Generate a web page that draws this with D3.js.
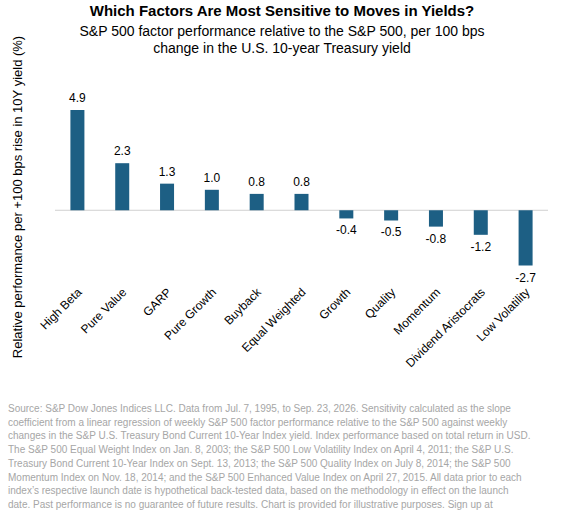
<!DOCTYPE html>
<html><head><meta charset="utf-8">
<script src="https://cdn.jsdelivr.net/npm/d3@7"></script>
<style>body{margin:0;background:#fff;font-family:Arial,"Liberation Sans",sans-serif}</style>
</head><body><div id="chart"></div>
<script>
// Data
let factors = ["High Beta","Pure Value","GARP","Pure Growth","Buyback","Equal Weighted","Growth","Quality","Momentum","Dividend Aristocrats","Low Volatility"];
let values = [4.9, 2.3, 1.3, 1.0, 0.8, 0.8, -0.4, -0.5, -0.8, -1.2, -2.7];
let footnote = [
  "Source: S&P Dow Jones Indices LLC. Data from Jul. 7, 1995, to Sep. 23, 2026. Sensitivity calculated as the slope",
  "coefficient from a linear regression of weekly S&P 500 factor performance relative to the S&P 500 against weekly",
  "changes in the S&P U.S. Treasury Bond Current 10-Year Index yield. Index performance based on total return in USD.",
  "The S&P 500 Equal Weight Index on Jan. 8, 2003; the S&P 500 Low Volatility Index on April 4, 2011; the S&P U.S.",
  "Treasury Bond Current 10-Year Index on Sept. 13, 2013; the S&P 500 Quality Index on July 8, 2014; the S&P 500",
  "Momentum Index on Nov. 18, 2014; and the S&P 500 Enhanced Value Index on April 27, 2015. All data prior to each",
  "index’s respective launch date is hypothetical back-tested data, based on the methodology in effect on the launch",
  "date. Past performance is no guarantee of future results. Chart is provided for illustrative purposes. Sign up at"
];

let width = 563, height = 511;
let svg = d3.select("#chart").append("svg").attr("width", width).attr("height", height);

// Titles
svg.append("text").attr("x", 282).attr("y", 16).attr("text-anchor", "middle")
  .style("font-size", "15px").style("font-weight", "bold").text("Which Factors Are Most Sensitive to Moves in Yields?");
svg.append("text").attr("x", 282).attr("y", 36).attr("text-anchor", "middle")
  .style("font-size", "14px").text("S&P 500 factor performance relative to the S&P 500, per 100 bps");
svg.append("text").attr("x", 282).attr("y", 53).attr("text-anchor", "middle")
  .style("font-size", "14px").text("change in the U.S. 10-year Treasury yield");

// Scales
let x = d3.scalePoint().domain(factors).range([55, 548]).padding(0.5);
let y = d3.scaleLinear().domain([-2.7, 4.9]).range([265.5, 110]);
let barW = 14;

// Zero line
svg.append("line").attr("x1", 55).attr("x2", 548).attr("y1", y(0)).attr("y2", y(0))
  .attr("stroke", "#d0d0d0").attr("stroke-width", 1);

// Bars
svg.selectAll(".bar").data(values).enter().append("rect")
  .attr("x", (d, i) => x(factors[i]) - barW / 2)
  .attr("y", d => y(Math.max(0, d)))
  .attr("width", barW)
  .attr("height", d => Math.abs(y(d) - y(0)))
  .attr("fill", "#1d5f84");

// Value labels
svg.selectAll(".val").data(values).enter().append("text")
  .attr("x", (d, i) => x(factors[i]))
  .attr("y", d => d >= 0 ? y(d) - 8 : y(d) + 16)
  .attr("text-anchor", "middle").style("font-size", "12px")
  .text(d => d.toFixed(1));

// Category labels
svg.selectAll(".cat").data(factors).enter().append("text")
  .attr("transform", d => `translate(${x(d) + 5},${293}) rotate(-45)`)
  .attr("text-anchor", "end").style("font-size", "12px")
  .text(d => d);

// Y axis title
svg.append("text").attr("transform", "translate(22,197) rotate(-90)")
  .attr("text-anchor", "middle").style("font-size", "13px")
  .text("Relative performance per +100 bps rise in 10Y yield (%)");

// Footnote
svg.selectAll(".foot").data(footnote).enter().append("text")
  .attr("x", 8).attr("y", (d, i) => 412 + i * 13.7)
  .style("font-size", "10px").attr("fill", "#a6a6a6")
  .text(d => d);
</script>
</body></html>
